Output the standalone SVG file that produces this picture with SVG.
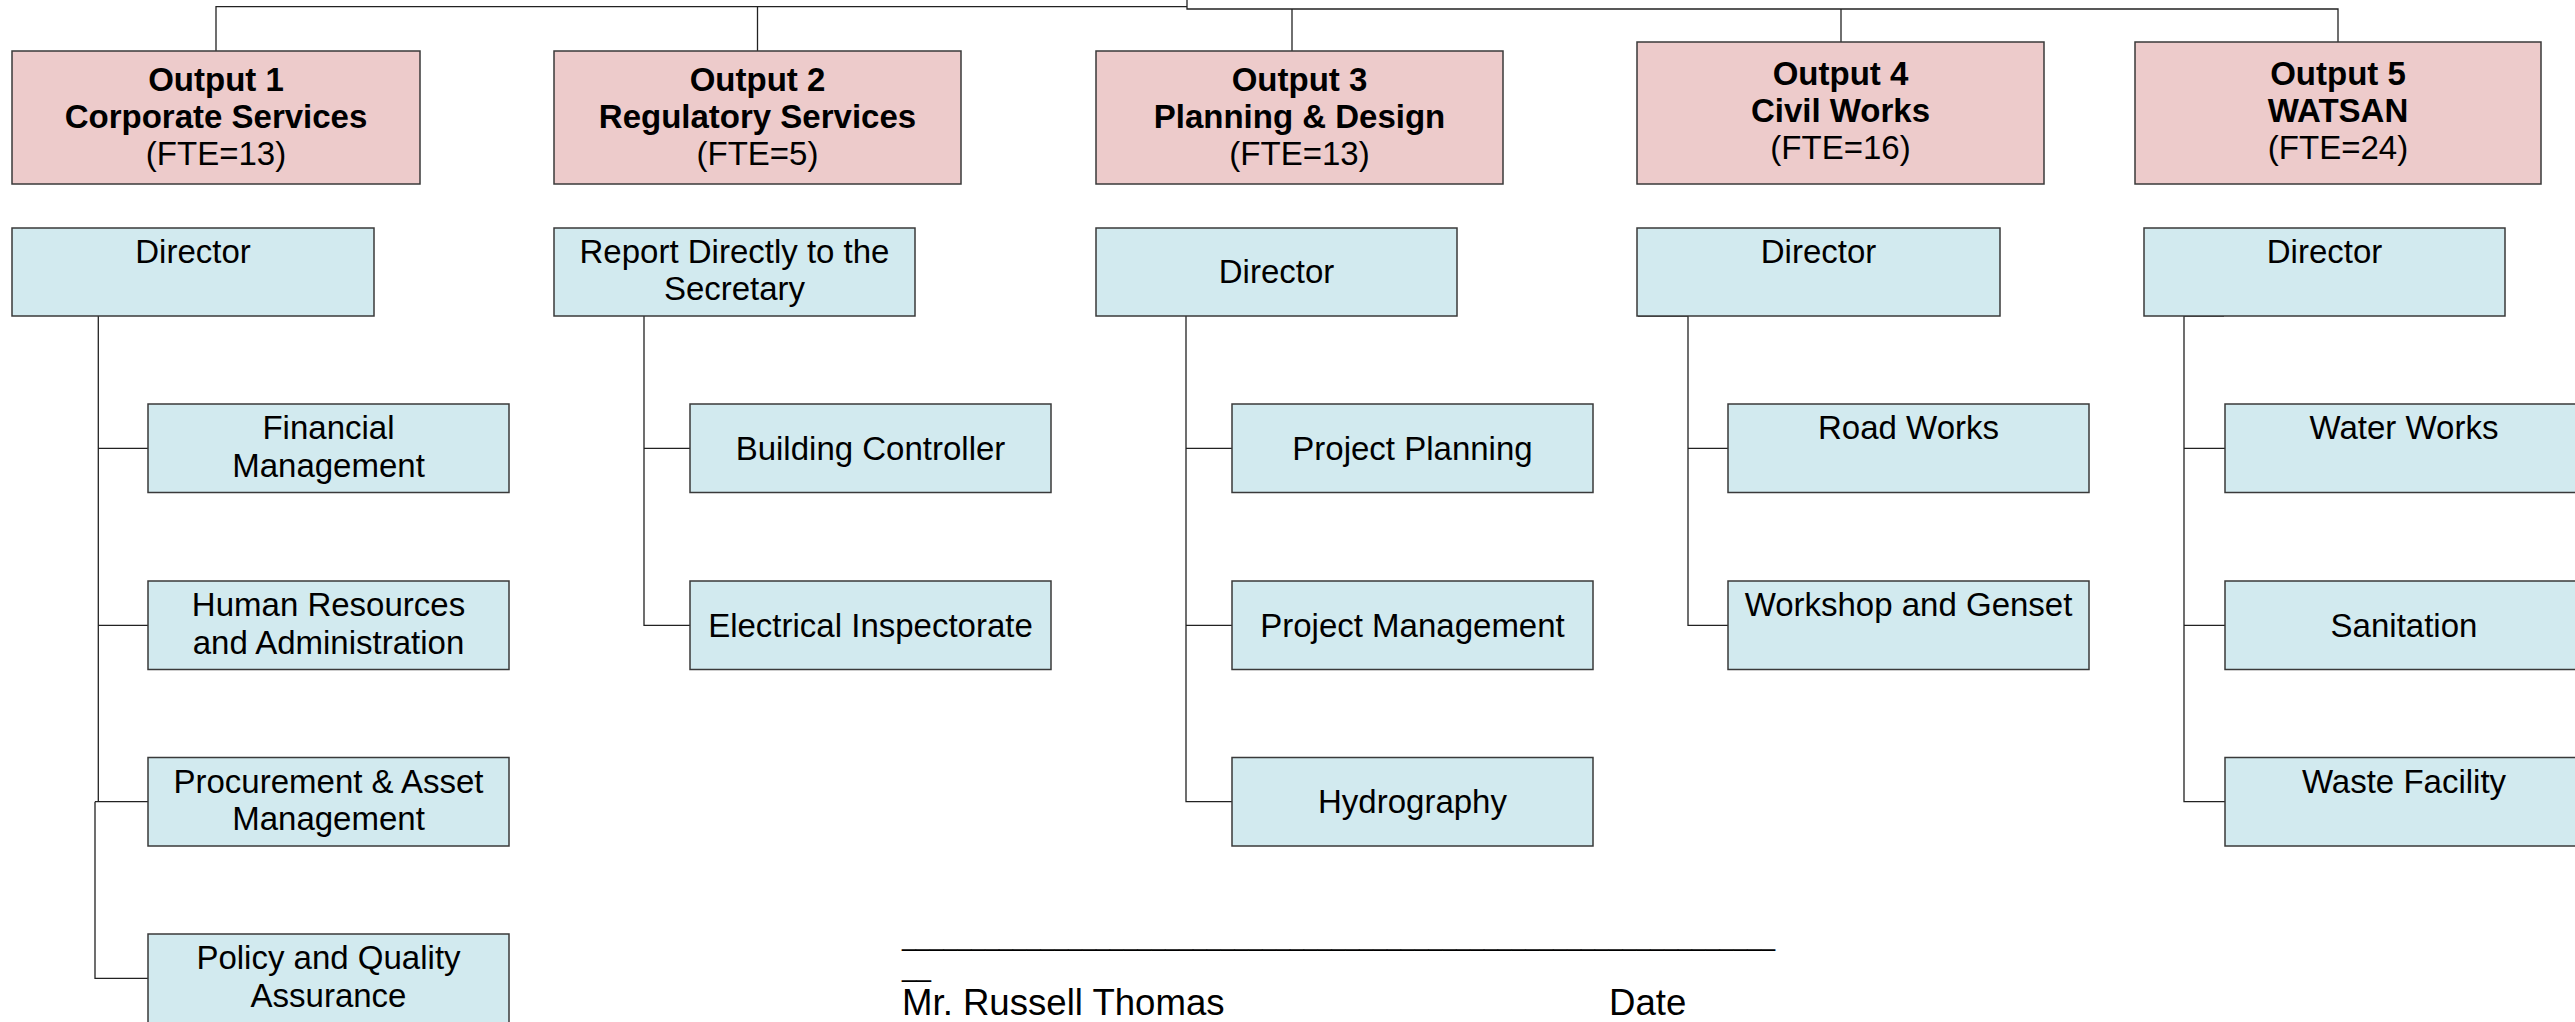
<svg xmlns="http://www.w3.org/2000/svg" width="2575" height="1022" viewBox="0 0 2575 1022">
  <defs>
    <style>
      .out { fill: #EDCBCB; stroke: #3a3a3a; stroke-width: 1.5; }
      .unit { fill: #D2EAEF; stroke: #3a3a3a; stroke-width: 1.5; }
      text { font-family: "Liberation Sans", Arial, sans-serif; font-size: 33px; fill: #000; text-anchor: middle; }
      .b { font-weight: bold; }
      .sig { text-anchor: start; font-size: 36.6px; }
      .rule { text-anchor: start; font-size: 25px; }
      .conn { fill: none; stroke: #222; stroke-width: 1.3; }
    </style>
  </defs>
  <rect width="2575" height="1022" fill="#fff"/>

  <!-- reporting lines -->
  <g id="connectors" class="conn">
    <path d="M216,51 V6.7 H1187"/>
    <path d="M757.5,6.7 V51"/>
    <path d="M1187,0 V9 H2338 V42"/>
    <path d="M1292,9 V51"/>
    <path d="M1841,9 V42"/>
    <!-- Output 1 -->
    <path d="M98.3,316 V801.7"/>
    <path d="M98.3,448.3 H148"/>
    <path d="M98.3,625.3 H148"/>
    <path d="M95,801.7 H148"/>
    <path d="M95,801.7 V978.3 H148"/>
    <!-- Output 2 -->
    <path d="M644,316 V625.3 H690"/>
    <path d="M644,448.3 H690"/>
    <!-- Output 3 -->
    <path d="M1186,316 V801.7 H1232"/>
    <path d="M1186,448.3 H1232"/>
    <path d="M1186,625.3 H1232"/>
    <!-- Output 4 -->
    <path d="M1638,316 H1688 V625.3 H1728"/>
    <path d="M1688,448.3 H1728"/>
    <!-- Output 5 -->
    <path d="M2224,316 H2184 V801.7 H2225"/>
    <path d="M2184,448.3 H2225"/>
    <path d="M2184,625.3 H2225"/>
  </g>

  <!-- outputs -->
  <g id="output1">
    <rect class="out" x="12" y="51" width="408" height="133"/>
    <text class="b" x="216" y="90.5">Output 1</text>
    <text class="b" x="216" y="127.5">Corporate Services</text>
    <text x="216" y="164.5">(FTE=13)</text>
  </g>
  <g id="output2">
    <rect class="out" x="554" y="51" width="407" height="133"/>
    <text class="b" x="757.5" y="90.5">Output 2</text>
    <text class="b" x="757.5" y="127.5">Regulatory Services</text>
    <text x="757.5" y="164.5">(FTE=5)</text>
  </g>
  <g id="output3">
    <rect class="out" x="1096" y="51" width="407" height="133"/>
    <text class="b" x="1299.5" y="90.5">Output 3</text>
    <text class="b" x="1299.5" y="127.5">Planning &amp; Design</text>
    <text x="1299.5" y="164.5">(FTE=13)</text>
  </g>
  <g id="output4">
    <rect class="out" x="1637" y="42" width="407" height="142"/>
    <text class="b" x="1840.5" y="85">Output 4</text>
    <text class="b" x="1840.5" y="122">Civil Works</text>
    <text x="1840.5" y="159">(FTE=16)</text>
  </g>
  <g id="output5">
    <rect class="out" x="2135" y="42" width="406" height="142"/>
    <text class="b" x="2338" y="85">Output 5</text>
    <text class="b" x="2338" y="122">WATSAN</text>
    <text x="2338" y="159">(FTE=24)</text>
  </g>

  <!-- heads -->
  <g id="director1">
    <rect class="unit" x="12" y="228" width="362" height="88"/>
    <text x="193" y="263">Director</text>
  </g>
  <g id="report2">
    <rect class="unit" x="554" y="228" width="361" height="88"/>
    <text x="734.5" y="263">Report Directly to the</text>
    <text x="734.5" y="300">Secretary</text>
  </g>
  <g id="director3">
    <rect class="unit" x="1096" y="228" width="361" height="88"/>
    <text x="1276.5" y="283">Director</text>
  </g>
  <g id="director4">
    <rect class="unit" x="1637" y="228" width="363" height="88"/>
    <text x="1818.5" y="263">Director</text>
  </g>
  <g id="director5">
    <rect class="unit" x="2144" y="228" width="361" height="88"/>
    <text x="2324.5" y="263">Director</text>
  </g>

  <!-- Output 1 units -->
  <g id="financial">
    <rect class="unit" x="148" y="404" width="361" height="88.5"/>
    <text x="328.5" y="439">Financial</text>
    <text x="328.5" y="476.5">Management</text>
  </g>
  <g id="hr">
    <rect class="unit" x="148" y="581" width="361" height="88.5"/>
    <text x="328.5" y="616">Human Resources</text>
    <text x="328.5" y="653.5">and Administration</text>
  </g>
  <g id="procurement">
    <rect class="unit" x="148" y="757.5" width="361" height="88.5"/>
    <text x="328.5" y="792.5">Procurement &amp; Asset</text>
    <text x="328.5" y="830">Management</text>
  </g>
  <g id="policy">
    <rect class="unit" x="148" y="934" width="361" height="89"/>
    <text x="328.5" y="969">Policy and Quality</text>
    <text x="328.5" y="1006.5">Assurance</text>
  </g>

  <!-- Output 2 units -->
  <g id="building">
    <rect class="unit" x="690" y="404" width="361" height="88.5"/>
    <text x="870.5" y="459.8">Building Controller</text>
  </g>
  <g id="electrical">
    <rect class="unit" x="690" y="581" width="361" height="88.5"/>
    <text x="870.5" y="636.8">Electrical Inspectorate</text>
  </g>

  <!-- Output 3 units -->
  <g id="planning">
    <rect class="unit" x="1232" y="404" width="361" height="88.5"/>
    <text x="1412.5" y="459.8">Project Planning</text>
  </g>
  <g id="management">
    <rect class="unit" x="1232" y="581" width="361" height="88.5"/>
    <text x="1412.5" y="636.8">Project Management</text>
  </g>
  <g id="hydrography">
    <rect class="unit" x="1232" y="757.5" width="361" height="88.5"/>
    <text x="1412.5" y="813.2">Hydrography</text>
  </g>

  <!-- Output 4 units -->
  <g id="roads">
    <rect class="unit" x="1728" y="404" width="361" height="88.5"/>
    <text x="1908.5" y="439">Road Works</text>
  </g>
  <g id="workshop">
    <rect class="unit" x="1728" y="581" width="361" height="88.5"/>
    <text x="1908.5" y="616">Workshop and Genset</text>
  </g>

  <!-- Output 5 units -->
  <g id="water">
    <rect class="unit" x="2225" y="404" width="361" height="88.5"/>
    <text x="2404" y="439">Water Works</text>
  </g>
  <g id="sanitation">
    <rect class="unit" x="2225" y="581" width="361" height="88.5"/>
    <text x="2404" y="636.8">Sanitation</text>
  </g>
  <g id="waste">
    <rect class="unit" x="2225" y="757.5" width="361" height="88.5"/>
    <text x="2404" y="792.5">Waste Facility</text>
  </g>

  <!-- sign-off -->
  <g id="signature">
    <text class="rule" x="902" y="946" textLength="873" lengthAdjust="spacingAndGlyphs">_______________________________________________________________</text>
    <text class="rule" x="902" y="977" textLength="29" lengthAdjust="spacingAndGlyphs">__</text>
    <text class="sig" x="902" y="1015">Mr. Russell Thomas</text>
    <text class="sig" x="1609" y="1015">Date</text>
  </g>
</svg>
